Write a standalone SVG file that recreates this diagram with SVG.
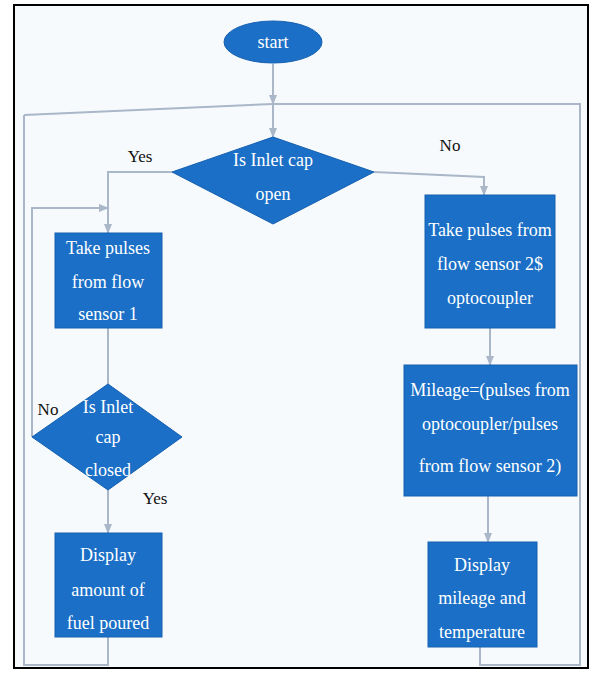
<svg xmlns="http://www.w3.org/2000/svg" width="590" height="675" viewBox="0 0 590 675">
<defs>
<style>
.n{fill:#1b6fc6;stroke:#1560b0;stroke-width:1}
.t{font-family:'Liberation Serif','DejaVu Serif',serif;font-size:18px;fill:#ffffff;text-anchor:middle}
.l{font-family:'Liberation Serif','DejaVu Serif',serif;font-size:17px;fill:#111;text-anchor:middle}
.c{fill:none;stroke:#a9b7c8;stroke-width:2}
</style>
<marker id="a" viewBox="0 0 10 10" refX="9" refY="5" markerWidth="5" markerHeight="5" orient="auto">
<path d="M0,1 L10,5 L0,9 z" fill="#a9b7c8"/>
</marker>
</defs>
<rect x="0" y="0" width="590" height="675" fill="#ffffff"/>
<rect x="14" y="5" width="574" height="663" fill="#f7fafd" stroke="#000" stroke-width="2"/>
<g id="connectors">
<path class="c" d="M273,64 V104" marker-end="url(#a)"/>
<path class="c" d="M24,115 L273,104 H580 V665 H480 V647"/>
<path class="c" d="M273,104 V137" marker-end="url(#a)"/>
<path class="c" d="M172,172 H108 V233" marker-end="url(#a)"/>
<path class="c" d="M374,172 L484,177 V195" marker-end="url(#a)"/>
<path class="c" d="M108,328 V384"/>
<path class="c" d="M32,437 V208 H108" marker-end="url(#a)"/>
<path class="c" d="M108,490 V533" marker-end="url(#a)"/>
<path class="c" d="M108,637 V665 H24 V115"/>
<path class="c" d="M490,328 V365" marker-end="url(#a)"/>
<path class="c" d="M488,496 V542" marker-end="url(#a)"/>
</g>
<g id="start">
<ellipse class="n" cx="273" cy="42" rx="49" ry="21"/>
<text class="t" x="273" y="48">start</text>
</g>
<g id="d1">
<polygon class="n" points="273,137 374,172 273,224 172,172"/>
<text class="t" x="273" y="166">Is Inlet cap</text>
<text class="t" x="273" y="200">open</text>
</g>
<g id="b1">
<rect class="n" x="55" y="233" width="107" height="95"/>
<text class="t" x="108" y="254">Take pulses</text>
<text class="t" x="108" y="288">from flow</text>
<text class="t" x="108" y="320">sensor 1</text>
</g>
<g id="d2">
<polygon class="n" points="108,384 182,437 108,490 32,437"/>
<text class="t" x="108" y="413">Is Inlet</text>
<text class="t" x="108" y="443">cap</text>
<text class="t" x="108" y="476">closed</text>
</g>
<g id="b2">
<rect class="n" x="55" y="533" width="107" height="104"/>
<text class="t" x="108" y="561">Display</text>
<text class="t" x="108" y="596">amount of</text>
<text class="t" x="108" y="629">fuel poured</text>
</g>
<g id="b3">
<rect class="n" x="425" y="195" width="130" height="133"/>
<text class="t" x="490" y="236">Take pulses from</text>
<text class="t" x="490" y="270">flow sensor 2$</text>
<text class="t" x="490" y="304">optocoupler</text>
</g>
<g id="b4">
<rect class="n" x="404" y="365" width="173" height="131"/>
<text class="t" x="490" y="396">Mileage=(pulses  from</text>
<text class="t" x="490" y="430">optocoupler/pulses</text>
<text class="t" x="490" y="472">from flow sensor 2)</text>
</g>
<g id="b5">
<rect class="n" x="428" y="542" width="109" height="105"/>
<text class="t" x="482" y="571">Display</text>
<text class="t" x="482" y="604">mileage and</text>
<text class="t" x="482" y="638">temperature</text>
</g>
<g id="labels">
<text class="l" x="140" y="162">Yes</text>
<text class="l" x="450" y="151">No</text>
<text class="l" x="48" y="415">No</text>
<text class="l" x="155" y="504">Yes</text>
</g>
</svg>
